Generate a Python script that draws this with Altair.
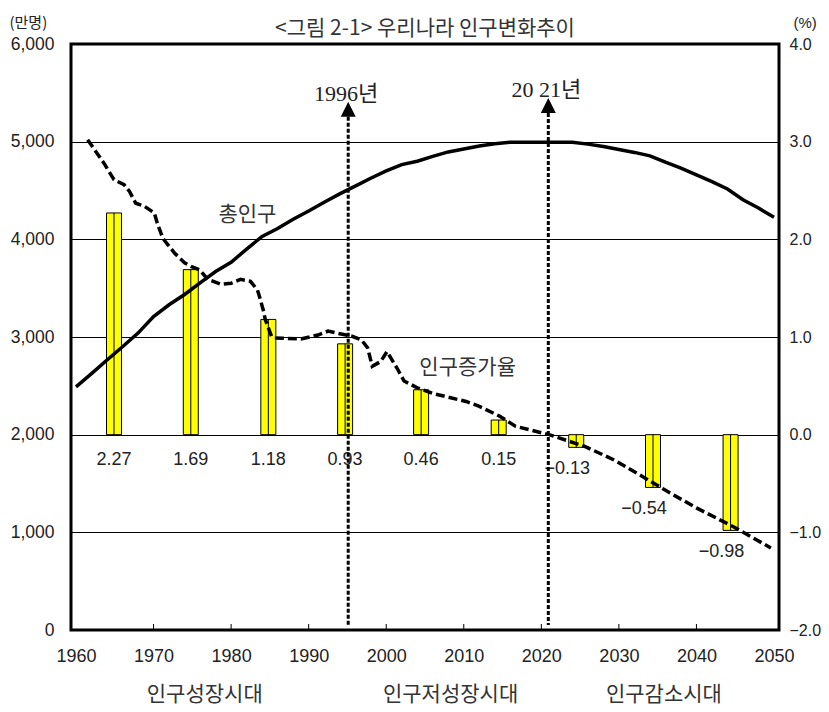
import altair as alt
import pandas as pd

# ---------------- data ----------------
pop_years = [1960, 1962, 1964, 1966, 1968, 1970, 1972, 1974, 1976, 1978, 1980, 1982,
             1984, 1986, 1988, 1990, 1992, 1994, 1996, 1998, 2000, 2002, 2004, 2006,
             2008, 2010, 2012, 2014, 2016, 2018, 2020, 2022, 2024, 2026, 2028, 2030,
             2032, 2034, 2036, 2038, 2040, 2042, 2044, 2046, 2048, 2050]
pop_values = [2490, 2625, 2765, 2900, 3040, 3210, 3330, 3435, 3555, 3670, 3765, 3900,
              4030, 4110, 4205, 4290, 4380, 4465, 4545, 4625, 4700, 4765, 4800, 4850,
              4895, 4925, 4955, 4978, 4995, 4995, 4995, 4995, 4995, 4975, 4950, 4920,
              4890, 4855, 4790, 4730, 4660, 4590, 4515, 4405, 4320, 4225]

rate_years = [1961.5, 1963.6, 1964.9, 1966.2, 1966.9, 1967.7, 1968.8, 1970.1, 1970.5,
              1971.2, 1972.7, 1974.0, 1974.9, 1975.9, 1977.0, 1978.7, 1980.0, 1981.2,
              1982.5, 1983.4, 1983.6, 1984.2, 1984.4, 1985.2, 1985.6, 1989.0, 1991.2,
              1992.5, 1994.2, 1995.5, 1996.8, 1997.6, 1998.2, 1999.3, 2000.1, 2001.4,
              2002.3, 2004.0, 2006.1, 2010.3, 2012.0, 2014.6, 2016.7, 2021.0, 2025.6,
              2029.4, 2033.3, 2035.8, 2040.0, 2044.7, 2049.6]
rate_values = [3.02, 2.78, 2.61, 2.56, 2.49, 2.37, 2.34, 2.27, 2.16,
               2.01, 1.86, 1.76, 1.72, 1.69, 1.59, 1.54, 1.55, 1.59,
               1.57, 1.48, 1.43, 1.26, 1.18, 1.01, 0.99, 0.98, 1.02,
               1.06, 1.03, 1.01, 0.97, 0.89, 0.70, 0.75, 0.85, 0.68,
               0.55, 0.48, 0.42, 0.34, 0.29, 0.19, 0.085, 0.0, -0.12,
               -0.26, -0.44, -0.56, -0.75, -0.94, -1.16]

bar_years = [1964.9, 1974.8, 1984.8, 1994.7, 2004.5, 2014.5, 2024.5, 2034.4, 2044.4]
bar_rates = [2.27, 1.69, 1.18, 0.93, 0.46, 0.15, -0.13, -0.54, -0.98]

marker_years = [1995.1, 2020.9]
marker_labels = ["1996년", "20 21년"]
marker_base = [5255, 5293]          # arrow base, on the 만명 axis

tick_years = [1970, 1980, 1990, 2000, 2010, 2020, 2030, 2040]
x_labels = list(range(1960, 2051, 10))
left_ticks = [0, 1000, 2000, 3000, 4000, 5000, 6000]
right_ticks = [-2, -1, 0, 1, 2, 3, 4]

series_labels = ["총인구", "인구증가율"]
series_label_x = [1982.1, 2010.5]
series_label_y = [4249, 2682]

era_labels = ["인구성장시대", "인구저성장시대", "인구감소시대"]
era_centers = [1976.6, 2008.3, 2035.8]

title_text = "<그림 2-1> 우리나라 인구변화추이"

# ---------------- layout / styling ----------------
W, H = 708, 586
KR = "Noto Sans CJK KR"
NUM = "Liberation Sans"
SERIF = "'Liberation Serif', 'Noto Sans CJK KR', serif"
TXT = "#222222"

xscale = alt.Scale(domain=[1960, 2050], nice=False, zero=False)
popscale = alt.Scale(domain=[0, 6000], nice=False, zero=False)
ratescale = alt.Scale(domain=[-2, 4], nice=False, zero=False)

xaxis = alt.Axis(values=x_labels, format="d", ticks=False, domain=False, grid=False,
                 labelPadding=17, labelFontSize=18, labelFont=NUM, labelColor=TXT,
                 labelFlush=False, labelOverlap=False, title=None)


def X(field):
    return alt.X(f"{field}:Q", scale=xscale, axis=xaxis)


def Ypop(field, axis=None):
    return alt.Y(f"{field}:Q", scale=popscale, axis=axis)


def Yrate(field, axis=None):
    return alt.Y(f"{field}:Q", scale=ratescale, axis=axis)


left_axis = alt.Axis(orient="left", values=left_ticks, format=",d", grid=True,
                     gridColor="black", gridWidth=1, gridOpacity=1, domain=False,
                     ticks=False, labelPadding=17, labelFontSize=17.5, labelFont=NUM,
                     labelColor=TXT, title="(만명)", titleAngle=0, titleX=-62,
                     titleY=-29, titleAlign="left", titleBaseline="top",
                     titleFont=KR, titleFontSize=15, titleFontWeight="normal",
                     titleColor=TXT)
right_axis = alt.Axis(orient="right", values=right_ticks, format=".1f", grid=False,
                      domain=False, ticks=False, labelPadding=10, labelAlign="left",
                      labelFontSize=16, labelFont=NUM, labelColor=TXT, title="(%)",
                      titleAngle=0, titleX=14, titleY=-29, titleAlign="left",
                      titleBaseline="top", titleFont=NUM, titleFontSize=15,
                      titleFontWeight="normal", titleColor=TXT)

pop_df = pd.DataFrame({"year": pop_years, "pop": pop_values})
rate_df = pd.DataFrame({"year": rate_years, "rate": rate_values})
bar_df = pd.DataFrame({"year": bar_years, "rate": bar_rates})
marker_df = pd.DataFrame({"year": marker_years, "label": marker_labels, "base": marker_base})
tick_df = pd.DataFrame({"year": tick_years})
series_df = pd.DataFrame({"x": series_label_x, "y": series_label_y, "label": series_labels})
era_df = pd.DataFrame({"x": era_centers, "label": era_labels})
title_df = pd.DataFrame({"t": [title_text]})

# population line (carries left axis + grid)
pop_line = alt.Chart(pop_df).mark_line(color="black", strokeWidth=3.5).encode(
    x=X("year"), y=Ypop("pop", left_axis))

# bars (carry right axis)
bars = alt.Chart(bar_df).mark_bar(size=15, fill="#FFFF00", stroke="black",
                                  strokeWidth=1).encode(
    x=X("year"), y=Yrate("rate", right_axis), y2=alt.datum(0))
bar_mid = alt.Chart(bar_df).mark_rule(color="black", strokeWidth=1).encode(
    x=X("year"), y=Yrate("rate"), y2=alt.datum(0))

pos_labels = alt.Chart(bar_df).transform_filter("datum.rate >= 0").mark_text(
    font=NUM, fontSize=18, color=TXT, baseline="alphabetic", dy=30).encode(
    x=X("year"), y=alt.Y(datum=0, scale=ratescale, axis=None),
    text=alt.Text("rate:Q", format=".2f"))
neg_labels = alt.Chart(bar_df).transform_filter("datum.rate < 0").mark_text(
    font=NUM, fontSize=18, color=TXT, baseline="alphabetic", dy=27, dx=-9).encode(
    x=X("year"), y=Yrate("rate"), text=alt.Text("rate:Q", format=".2f"))

# growth-rate dashed line
rate_line = alt.Chart(rate_df).mark_line(color="black", strokeWidth=3.5,
                                         strokeDash=[9, 4]).encode(
    x=X("year"), y=Yrate("rate"))

# vertical dotted markers with arrows
marker_rules = alt.Chart(marker_df).mark_rule(color="black", strokeWidth=3,
                                              strokeDash=[4, 2]).encode(
    x=X("year"), y=Ypop("base"), y2=alt.value(H - 5))
marker_arrows = alt.Chart(marker_df).mark_point(
    shape="M-1,0L0,-2L1,0Z", size=225, filled=True, color="black", opacity=1).encode(
    x=X("year"), y=Ypop("base"))
marker_text = alt.Chart(marker_df).mark_text(
    font=SERIF, fontSize=22, color=TXT, baseline="alphabetic", dy=-16, dx=-2).encode(
    x=X("year"), y=Ypop("base"), text="label:N")

# inner x ticks
xticks = alt.Chart(tick_df).mark_rule(color="black", strokeWidth=1).encode(
    x=X("year"), y=alt.value(H), y2=alt.value(H - 6))

# series labels
series_text = alt.Chart(series_df).mark_text(
    font=KR, fontSize=21, color="#333333", baseline="middle").encode(
    x=X("x"), y=Ypop("y"), text="label:N")

# era labels below the axis
era_text = alt.Chart(era_df).mark_text(
    font=KR, fontSize=21, color="#333333", baseline="middle").encode(
    x=X("x"), y=alt.value(H + 65), text="label:N")

# chart title
title = alt.Chart(title_df).mark_text(
    font=KR, fontSize=21, color="#333333", baseline="top").encode(
    x=alt.value(W / 2), y=alt.value(-26), text="t:N")

chart = alt.layer(
    bars, bar_mid, pos_labels, neg_labels, pop_line, marker_rules, marker_arrows,
    marker_text, rate_line, xticks, series_text, era_text, title
).resolve_scale(y="independent").properties(
    width=W, height=H,
    autosize=alt.AutoSizeParams(type="none"),
    padding={"left": 63, "top": 36, "right": 42, "bottom": 80},
).configure_view(stroke="black", strokeWidth=3)

chart.save("out.html", embed_options={"renderer": "svg", "actions": False})
